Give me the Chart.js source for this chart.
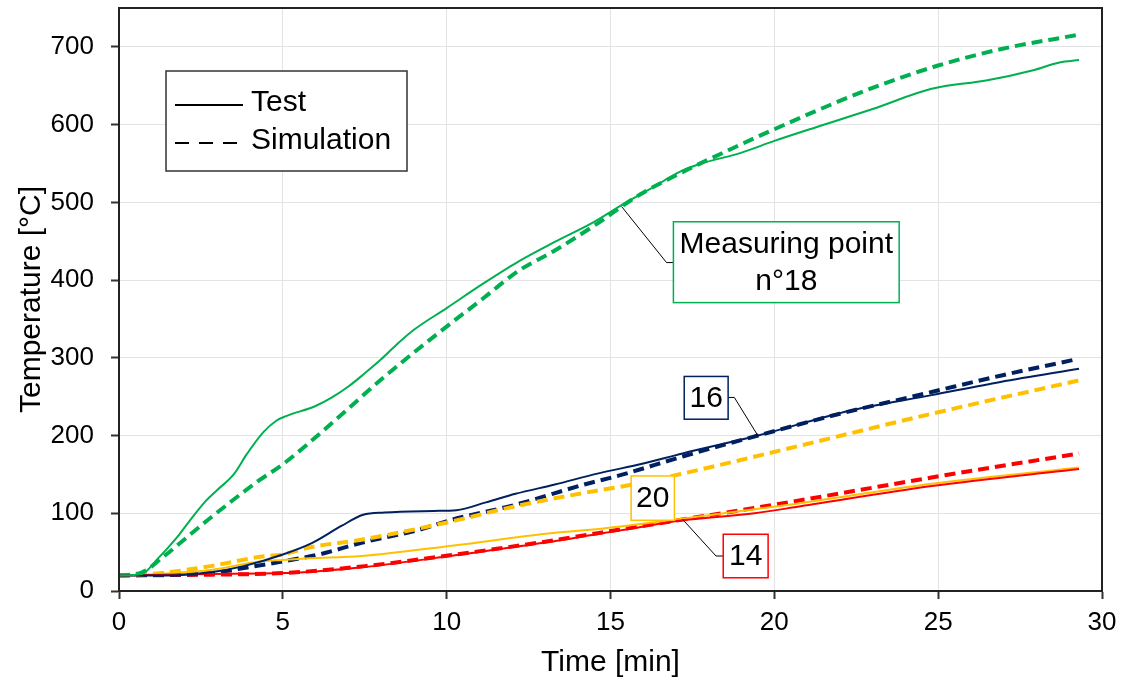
<!DOCTYPE html>
<html>
<head>
<meta charset="UTF-8">
<title>Temperature vs time</title>
<script src="https://cdn.jsdelivr.net/npm/chart.js"></script>
<style>
  html, body { margin: 0; padding: 0; background: #fff; }
  #wrap { width: 1125px; height: 687px; }
</style>
</head>
<body>
<div id="wrap"><canvas id="c"></canvas></div>
<script>
// measuring point 18 (green)
const t18Test = [0, 0.7, 1.15, 1.75, 2.15, 2.65, 3.0, 3.5, 3.9, 4.4, 4.8, 5.1, 6.0, 6.5, 7.0, 7.5, 8.0, 8.5, 9.0, 10.0, 11.1, 12.2, 13.3, 14.5, 15.4, 16.2, 17.2, 17.7, 19.0, 20.0, 21.3, 23.0, 24.8, 26.5, 27.9, 28.7, 29.3];
const T18Test = [20, 22, 40, 68, 90, 116, 130, 150, 176, 204, 219, 225, 238, 249, 263, 280, 298, 318, 336, 364, 395, 424, 449, 475, 498, 517, 541, 549, 564, 579, 597, 620, 646, 657, 670, 680, 683];
const t18Sim = [0, 0.7, 1.35, 2.7, 4.2, 5.0, 6.5, 8.0, 9.6, 11.1, 12.2, 13.3, 14.5, 15.9, 17.3, 18.7, 20.0, 21.8, 23.3, 25.0, 26.9, 29.2];
const T18Sim = [20, 24, 44, 91, 140, 163, 216, 272, 327, 376, 412, 438, 470, 510, 541, 569, 594, 627, 652, 676, 697, 715];

// measuring point 16 (navy)
const t16Test = [0, 1.5, 2.8, 3.8, 5.0, 5.9, 6.8, 7.45, 8.1, 9.6, 10.3, 11.2, 12.1, 13.3, 14.6, 16.0, 17.2, 19.5, 22.3, 24.8, 26.9, 29.3];
const T16Test = [20, 20, 24, 32, 47, 62, 84, 98, 101, 103, 104, 114, 125, 137, 151, 164, 177, 200, 232, 252, 269, 286];
const t16Sim = [0, 1.5, 2.8, 4.0, 5.0, 6.2, 7.4, 9.1, 10.1, 12.1, 14.2, 15.3, 17.2, 19.5, 22.0, 24.8, 26.9, 29.1];
const T16Sim = [20, 21, 23, 31, 38, 48, 62, 78, 91, 111, 137, 149, 173, 200, 228, 256, 277, 297];

// measuring point 20 (orange)
const t20Test = [0, 1.2, 2.8, 4.3, 5.0, 5.8, 7.4, 10.1, 13.1, 14.7, 15.3, 17.2, 20.8, 24.8, 29.3];
const T20Test = [20, 22, 27, 38, 40, 42, 45, 58, 74, 80, 83, 93, 113, 138, 159];
const t20Sim = [0, 1.25, 2.8, 4.3, 5.0, 5.8, 7.4, 10.1, 12.1, 14.7, 15.3, 17.2, 20.0, 24.8, 29.3];
const T20Sim = [20, 23, 32, 44, 47, 56, 66, 89, 109, 130, 134, 151, 179, 228, 271];

// measuring point 14 (red)
const t14Test = [0, 2.8, 5.0, 7.5, 10.1, 13.1, 14.7, 15.3, 17.2, 19.4, 20.8, 24.8, 29.3];
const T14Test = [20, 22, 23, 31, 45, 63, 74, 78, 91, 100, 109, 135, 157];
const t14Sim = [0, 2.8, 5.0, 7.5, 10.1, 13.1, 14.7, 17.2, 20.0, 24.8, 29.3];
const T14Sim = [20, 21, 23, 32, 46, 64, 75, 92, 111, 146, 177];

const xTicks = [0, 5, 10, 15, 20, 25, 30];
const yTicks = [0, 100, 200, 300, 400, 500, 600, 700];

const GREEN = '#00b050', NAVY = '#002060', ORANGE = '#ffc000', RED = '#ff0000';
const FONT = "'Liberation Sans', Arial, sans-serif";

function pts(ts, vs) { return ts.map((t, i) => ({ x: t, y: vs[i] })); }

function line(label, ts, vs, color, dashed) {
  return {
    label: label,
    data: pts(ts, vs),
    borderColor: color,
    borderWidth: dashed ? 4 : 2,
    borderDash: dashed ? [11, 6] : [],
    pointRadius: 0,
    cubicInterpolationMode: 'monotone',
    fill: false
  };
}

// labels in data coordinates
const labelBoxes = [
  { text: ['Measuring point', 'n°18'], color: GREEN, x1: 16.92, x2: 23.81, y1: 371, y2: 475,
    leader: [[15.34, 494.5], [16.71, 422.5], [16.92, 422.5]] },
  { text: ['16'], color: NAVY, x1: 17.25, x2: 18.59, y1: 221, y2: 276,
    leader: [[18.59, 249], [18.78, 249], [19.51, 199]] },
  { text: ['20'], color: ORANGE, x1: 15.63, x2: 16.95, y1: 91, y2: 148, leader: null },
  { text: ['14'], color: RED, x1: 18.44, x2: 19.81, y1: 17, y2: 73,
    leader: [[17.2, 92.2], [18.22, 45], [18.44, 45]] }
];

const extras = {
  id: 'extras',
  afterDatasetsDraw(chart) {
    const ctx = chart.ctx, a = chart.chartArea;
    const xs = chart.scales.x, ys = chart.scales.y;
    ctx.save();
    // frame
    ctx.strokeStyle = '#222';
    ctx.lineWidth = 2;
    ctx.strokeRect(a.left, a.top, a.right - a.left, a.bottom - a.top);

    // legend
    ctx.fillStyle = '#fff';
    ctx.fillRect(166, 71, 241, 100);
    ctx.strokeStyle = '#333';
    ctx.lineWidth = 1.5;
    ctx.strokeRect(166, 71, 241, 100);
    ctx.strokeStyle = '#000';
    ctx.lineWidth = 2;
    ctx.beginPath(); ctx.moveTo(175, 105); ctx.lineTo(243, 105); ctx.stroke();
    ctx.setLineDash([14, 10]);
    ctx.beginPath(); ctx.moveTo(175, 143); ctx.lineTo(243, 143); ctx.stroke();
    ctx.setLineDash([]);
    ctx.fillStyle = '#000';
    ctx.font = '30px ' + FONT;
    ctx.textAlign = 'left';
    ctx.textBaseline = 'middle';
    ctx.fillText('Test', 251, 103);
    ctx.fillText('Simulation', 251, 141);

    // labels
    labelBoxes.forEach(b => {
      if (b.leader) {
        ctx.strokeStyle = '#000';
        ctx.lineWidth = 1;
        ctx.beginPath();
        b.leader.forEach((p, i) => {
          const px = xs.getPixelForValue(p[0]), py = ys.getPixelForValue(p[1]);
          if (i === 0) ctx.moveTo(px, py); else ctx.lineTo(px, py);
        });
        ctx.stroke();
      }
      const l = xs.getPixelForValue(b.x1), r = xs.getPixelForValue(b.x2);
      const t = ys.getPixelForValue(b.y2), btm = ys.getPixelForValue(b.y1);
      ctx.fillStyle = '#fff';
      ctx.fillRect(l, t, r - l, btm - t);
      ctx.strokeStyle = b.color;
      ctx.lineWidth = 1.5;
      ctx.strokeRect(l, t, r - l, btm - t);
      ctx.fillStyle = '#000';
      ctx.textAlign = 'center';
      ctx.textBaseline = 'middle';
      const cx = (l + r) / 2, cy = (t + btm) / 2, lh = 37;
      b.text.forEach((s, i) => {
        ctx.fillText(s, cx, cy + (i - (b.text.length - 1) / 2) * lh + 1);
      });
    });
    ctx.restore();
  }
};

new Chart(document.getElementById('c'), {
  type: 'line',
  data: {
    datasets: [
      line('n°18 Test', t18Test, T18Test, GREEN, false),
      line('n°16 Test', t16Test, T16Test, NAVY, false),
      line('n°14 Test', t14Test, T14Test, RED, false),
      line('n°20 Test', t20Test, T20Test, ORANGE, false),
      line('n°18 Simulation', t18Sim, T18Sim, GREEN, true),
      line('n°20 Simulation', t20Sim, T20Sim, ORANGE, true),
      line('n°16 Simulation', t16Sim, T16Sim, NAVY, true),
      line('n°14 Simulation', t14Sim, T14Sim, RED, true)
    ]
  },
  options: {
    responsive: true,
    maintainAspectRatio: false,
    animation: false,
    layout: { padding: { top: 8, right: 23, left: 0, bottom: 0 } },
    plugins: { legend: { display: false }, tooltip: { enabled: false } },
    scales: {
      x: {
        type: 'linear',
        min: 0, max: 30,
        afterBuildTicks: s => { s.ticks = xTicks.map(v => ({ value: v })); },
        afterFit: s => { s.height = 96; s.paddingLeft = 0; s.paddingRight = 0; },
        ticks: { color: '#000', font: { family: FONT, size: 26 }, padding: 8, maxRotation: 0 },
        grid: { color: '#e3e3e3', tickColor: '#333', tickLength: 8, tickWidth: 2 },
        border: { color: '#222', width: 2 },
        title: { display: true, text: 'Time [min]', color: '#000',
                 font: { family: FONT, size: 30 }, padding: { top: 0, bottom: 6 } }
      },
      y: {
        min: 0, max: 750,
        afterBuildTicks: s => { s.ticks = yTicks.map(v => ({ value: v })); },
        afterFit: s => { s.width = 119; s.paddingTop = 0; s.paddingBottom = 0; },
        ticks: { color: '#000', font: { family: FONT, size: 26 }, padding: 17 },
        grid: { color: '#e3e3e3', tickColor: '#333', tickLength: 8, tickWidth: 2 },
        border: { color: '#222', width: 2 },
        title: { display: true, text: 'Temperature [°C]', color: '#000',
                 font: { family: FONT, size: 30 }, padding: { top: 14, bottom: 0 } }
      }
    }
  },
  plugins: [extras]
});
</script>
</body>
</html>
